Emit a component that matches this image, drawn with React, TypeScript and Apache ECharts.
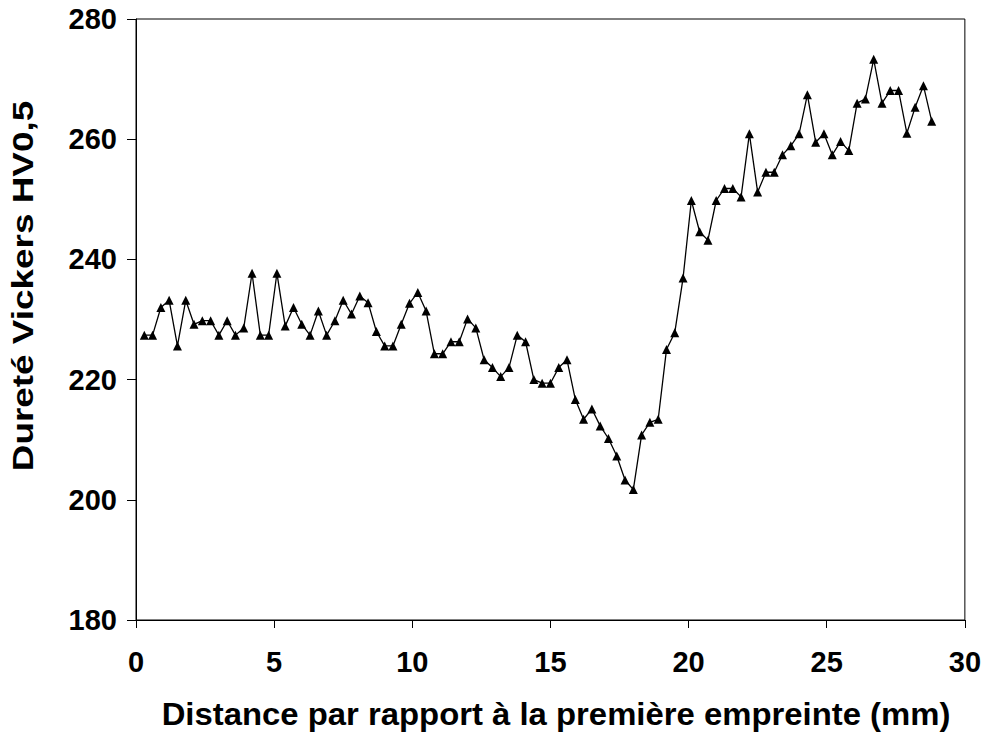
import React, { useEffect, useRef } from "react";
import * as echarts from "echarts";

const distances = [
  0.3, 0.6, 0.9, 1.2, 1.5, 1.8, 2.1, 2.4, 2.7, 3.0, 3.3, 3.6, 3.9, 4.2, 4.5, 4.8,
  5.1, 5.4, 5.7, 6.0, 6.3, 6.6, 6.9, 7.2, 7.5, 7.8, 8.1, 8.4, 8.7, 9.0, 9.3, 9.6,
  9.9, 10.2, 10.5, 10.8, 11.1, 11.4, 11.7, 12.0, 12.3, 12.6, 12.9, 13.2, 13.5, 13.8,
  14.1, 14.4, 14.7, 15.0, 15.3, 15.6, 15.9, 16.2, 16.5, 16.8, 17.1, 17.4, 17.7, 18.0,
  18.3, 18.6, 18.9, 19.2, 19.5, 19.8, 20.1, 20.4, 20.7, 21.0, 21.3, 21.6, 21.9, 22.2,
  22.5, 22.8, 23.1, 23.4, 23.7, 24.0, 24.3, 24.6, 24.9, 25.2, 25.5, 25.8, 26.1, 26.4,
  26.7, 27.0, 27.3, 27.6, 27.9, 28.2, 28.5, 28.8,
];

const hardness = [
  227.4, 227.4, 232.0, 233.2, 225.6, 233.2, 229.2, 229.8, 229.8, 227.4, 229.8, 227.4,
  228.6, 237.7, 227.4, 227.4, 237.7, 228.9, 232.0, 229.2, 227.4, 231.4, 227.4, 229.8,
  233.2, 230.9, 233.9, 232.8, 228.0, 225.6, 225.6, 229.2, 232.7, 234.5, 231.4, 224.3,
  224.3, 226.3, 226.3, 230.1, 228.6, 223.3, 222.0, 220.5, 222.0, 227.4, 226.3, 220.0,
  219.4, 219.4, 222.0, 223.3, 216.7, 213.4, 215.1, 212.3, 210.2, 207.3, 203.3, 201.7,
  210.8, 212.9, 213.4, 225.0, 227.8, 236.9, 249.8, 244.6, 243.2, 249.8, 251.8, 251.8,
  250.4, 260.9, 251.2, 254.5, 254.5, 257.4, 258.9, 260.9, 267.4, 259.5, 260.9, 257.4,
  259.6, 258.1, 266.0, 266.7, 273.3, 266.0, 268.1, 268.1, 261.0, 265.3, 268.9, 263.0,
];

const xTitle = "Distance par rapport à la première empreinte (mm)";
const yTitle = "Dureté Vickers HV0,5";

const FONT = "'Liberation Sans', Arial, sans-serif";

export default function App() {
  const ref = useRef<HTMLDivElement>(null);
  useEffect(() => {
    if (!ref.current) return;
    const chart = echarts.init(ref.current, null, { renderer: "svg" });
    chart.setOption({
      animation: false,
      backgroundColor: "#ffffff",
      grid: {
        left: 136,
        right: 17,
        top: 19,
        bottom: 113,
        show: true,
        borderColor: "#000",
        borderWidth: 1,
      },
      xAxis: {
        type: "value",
        min: 0,
        max: 30,
        interval: 5,
        axisLine: { lineStyle: { color: "#000", width: 1 } },
        axisTick: { inside: false, length: 8, lineStyle: { color: "#000" } },
        splitLine: { show: false },
        axisLabel: {
          color: "#000",
          fontFamily: FONT,
          fontWeight: "bold",
          fontSize: 29,
          margin: 27,
        },
      },
      yAxis: {
        type: "value",
        min: 180,
        max: 280,
        interval: 20,
        axisLine: { show: true, lineStyle: { color: "#000", width: 1 } },
        axisTick: { show: true, inside: false, length: 9, lineStyle: { color: "#000" } },
        splitLine: { show: false },
        axisLabel: {
          color: "#000",
          fontFamily: FONT,
          fontWeight: "bold",
          fontSize: 29,
          margin: 19,
        },
      },
      graphic: [
        {
          type: "text",
          x: 556,
          y: 714,
          scaleX: 1.06,
          style: {
            text: xTitle,
            fontFamily: FONT,
            fontWeight: "bold",
            fontSize: 31,
            fill: "#000",
            align: "center",
            verticalAlign: "middle",
          },
        },
        {
          type: "text",
          x: 8,
          y: 286,
          rotation: Math.PI / 2,
          scaleX: 1.23,
          style: {
            text: yTitle,
            fontFamily: FONT,
            fontWeight: "bold",
            fontSize: 30,
            fill: "#000",
            align: "center",
            verticalAlign: "top",
          },
        },
      ],
      series: [
        {
          type: "line",
          data: distances.map((d, i) => [d, hardness[i]]),
          symbol: "triangle",
          symbolSize: 9,
          itemStyle: { color: "#000" },
          lineStyle: { color: "#000", width: 1.3 },
        },
      ],
    });
    return () => chart.dispose();
  }, []);
  return <div ref={ref} style={{ width: 984, height: 733, position: "absolute", left: 0, top: 0 }} />;
}
